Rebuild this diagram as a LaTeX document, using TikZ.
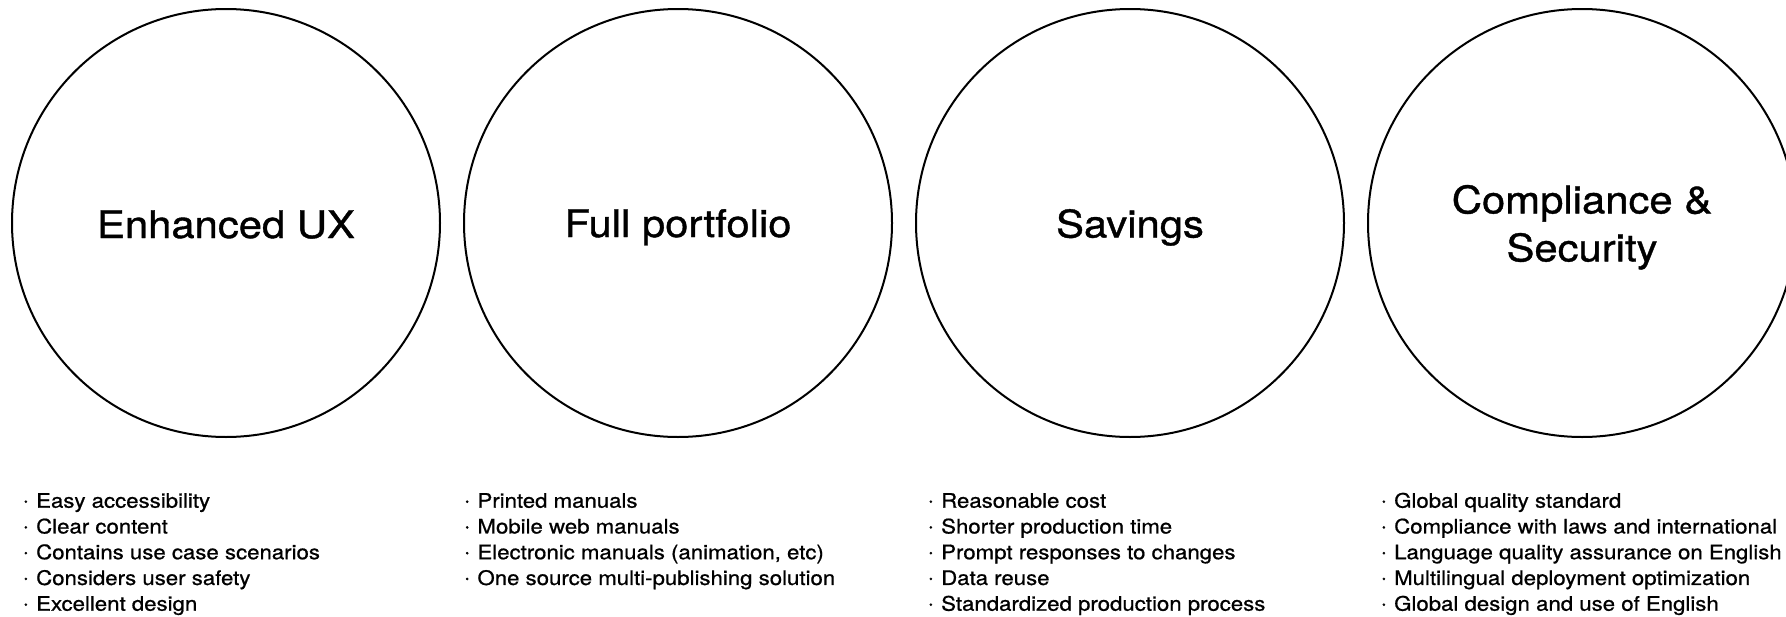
\documentclass[tikz,border=0pt]{standalone}
\usepackage{fontspec}
\setmainfont{TeX Gyre Heros}
\newfontfamily\headfont[FakeStretch=1.1,FakeBold=1.0]{TeX Gyre Heros}
\newfontfamily\itemfont[FakeStretch=1.11,FakeBold=0.8]{TeX Gyre Heros}
\newfontfamily\dotfont[FakeBold=2.5]{TeX Gyre Heros}
\newcommand{\dotbox}{\makebox[13.1pt][l]{\raisebox{1pt}{\dotfont·}}}
\begin{document}
\begin{tikzpicture}[x=1pt,y=-1pt,
  pillar/.style={circle,draw=black,line width=2pt,minimum size=428pt,inner sep=0pt},
  head/.style={font=\headfont\fontsize{38}{48}\selectfont,inner sep=0pt,align=center,text=black},
  item/.style={font=\itemfont\fontsize{20}{25.75}\selectfont,inner sep=0pt,anchor=base west,text=black}]
\clip (0,0) rectangle (1786,616);
\fill[white] (0,0) rectangle (1786,616);

% four pillars
\node[pillar] (c1) at (226,223) {};
\node[pillar] (c2) at (678,223) {};
\node[pillar] (c3) at (1130,223) {};
\node[pillar] (c4) at (1582,223) {};

% pillar titles
\node[head,anchor=base] (t1) at ([yshift=-15pt]c1.center) {Enhanced UX};
\node[head,anchor=base] (t2) at ([yshift=-14pt]c2.center) {Full portfolio};
\node[head,anchor=base] (t3) at ([yshift=-14.5pt]c3.center) {Savings};
\node[head] (t4) at ([yshift=-4.3pt]c4.center) {Compliance \&\\Security};

% bullet lists under each pillar
\foreach \t [count=\i] in {Easy accessibility, Clear content, Contains use case scenarios, Considers user safety, Excellent design}
  \node[item] (a\i) at (22.9,{507.7+(\i-1)*25.75}) {\dotbox\t};
\foreach \t [count=\i] in {Printed manuals, Mobile web manuals, {Electronic manuals (animation, etc)}, One source multi-publishing solution}
  \node[item] (b\i) at (464.2,{507.7+(\i-1)*25.75}) {\dotbox\t};
\foreach \t [count=\i] in {Reasonable cost, Shorter production time, Prompt responses to changes, Data reuse, Standardized production process}
  \node[item] (s\i) at (927.9,{507.7+(\i-1)*25.75}) {\dotbox\t};
\foreach \t [count=\i] in {Global quality standard, Compliance with laws and international, Language quality assurance on English, Multilingual deployment optimization, Global design and use of English}
  \node[item] (g\i) at (1380.9,{507.7+(\i-1)*25.75}) {\dotbox\t};
\end{tikzpicture}
\end{document}
